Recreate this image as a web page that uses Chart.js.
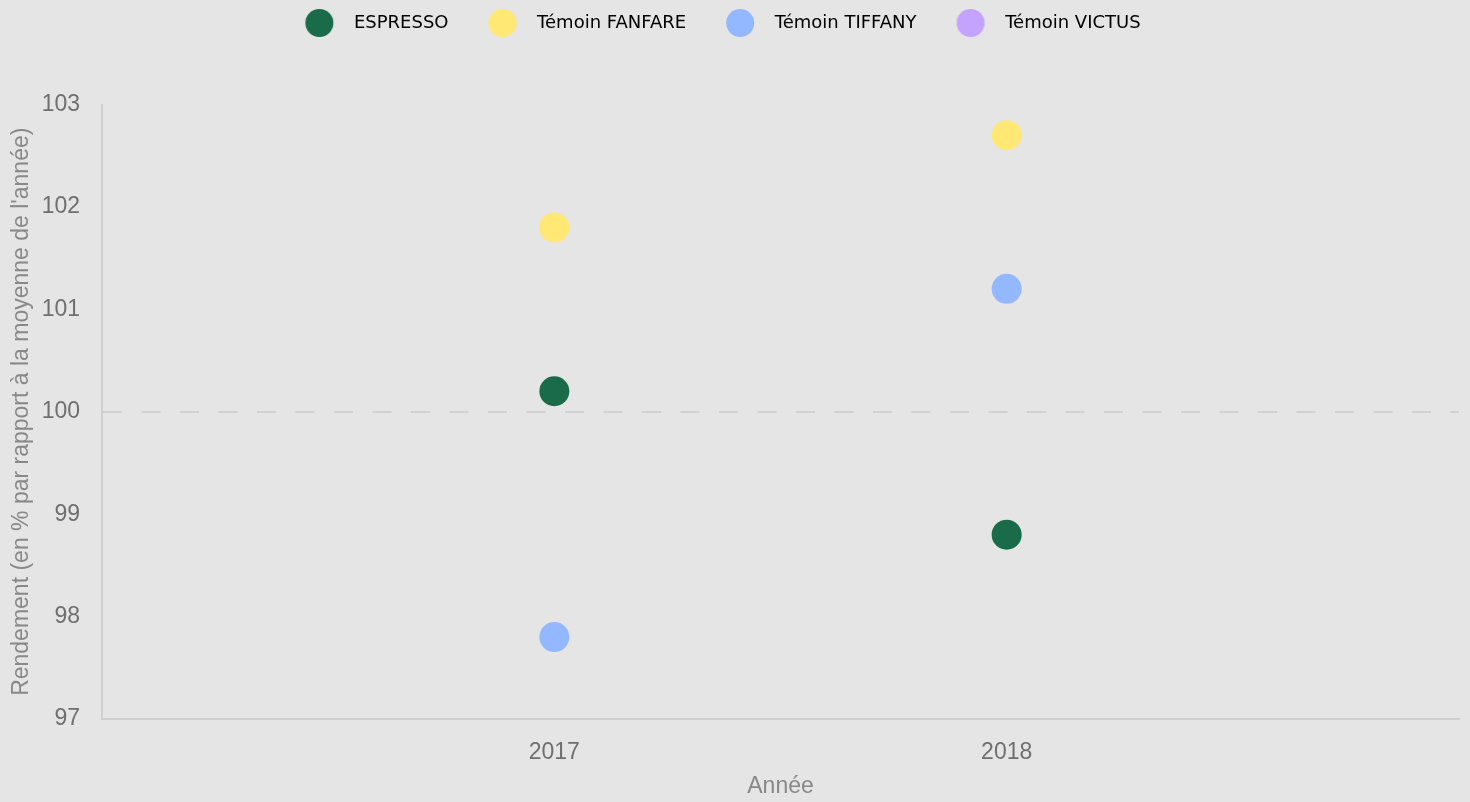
<!DOCTYPE html>
<html>
<head>
<meta charset="utf-8">
<script src="https://cdn.jsdelivr.net/npm/chart.js@4"></script>
<style>
  html,body{margin:0;padding:0;background:#e5e5e5;}
  #wrap{width:1470px;height:802px;}
</style>
</head>
<body>
<div id="wrap"><canvas id="chart"></canvas></div>
<script>
// data
const years = [2017, 2018];
const seriesNames = ['ESPRESSO', 'Témoin FANFARE', 'Témoin TIFFANY', 'Témoin VICTUS'];
const espresso = [100.2, 98.8];
const fanfare = [101.8, 102.7];
const tiffany = [97.8, 101.2];
const victus = [];
const colors = ['#196b4a', '#ffe873', '#94b8ff', '#c4a3ff'];

const yTicks = [97, 98, 99, 100, 101, 102, 103];

// legend dot, drawn off-centre in its image so the spacing matches
function legendDot(color){
  const c = document.createElement('canvas');
  c.width = 66; c.height = 30;
  const g = c.getContext('2d');
  g.fillStyle = color;
  g.beginPath();
  g.arc(15.2, 15, 14, 0, Math.PI*2);
  g.fill();
  return c;
}

function pts(vals){
  return vals.map((v,i)=>({x: years[i], y: v}));
}

const allVals = [espresso, fanfare, tiffany, victus];
const datasets = seriesNames.map((name,i)=>({
  label: name,
  data: pts(allVals[i]),
  backgroundColor: colors[i],
  borderColor: colors[i],
  borderWidth: 0,
  pointRadius: 15,
  pointHoverRadius: 15,
  pointStyle: 'circle'
}));

const legendGap = {
  id: 'legendGap',
  beforeInit(chart){
    const fit = chart.legend.fit;
    chart.legend.fit = function(){
      fit.bind(chart.legend)();
      this.height += 62.5;
    };
  }
};

const axisFont = { family: '"Liberation Sans", Arial, sans-serif', size: 23 };

new Chart(document.getElementById('chart'), {
  type: 'scatter',
  data: { datasets },
  options: {
    responsive: true,
    maintainAspectRatio: false,
    animation: false,
    layout: { autoPadding: false, padding: { top: -50, right: 0, left: 0, bottom: 0 } },
    plugins: {
      tooltip: { enabled: false },
      legend: {
        position: 'top',
        labels: {
          usePointStyle: true,
          pointStyleWidth: 15.6,
          padding: 64,
          color: '#111',
          font: { family: '"DejaVu Sans", sans-serif', size: 18 },
          generateLabels(chart){
            return chart.data.datasets.map((ds,i)=>({
              text: ds.label,
              fillStyle: ds.backgroundColor,
              strokeStyle: ds.backgroundColor,
              lineWidth: 0,
              pointStyle: legendDot(colors[i]),
              hidden: false,
              datasetIndex: i
            }));
          }
        }
      }
    },
    scales: {
      x: {
        type: 'linear',
        min: 2016,
        max: 2019,
        grid: { display: false, drawTicks: false },
        border: { display: true, color: '#cfcfcf', width: 2 },
        ticks: {
          stepSize: 1,
          padding: 20,
          color: '#6f6f6f',
          font: axisFont,
          callback: v => years.includes(v) ? String(v) : ''
        },
        title: {
          display: true,
          text: 'Année',
          color: '#888',
          font: axisFont,
          padding: { top: 4, bottom: 2 }
        },
        afterFit(s){ s.height = 83; s.paddingRight = 11; }
      },
      y: {
        min: 97,
        max: 103,
        afterBuildTicks(s){ s.ticks = yTicks.map(v=>({value: v})); },
        grid: {
          drawTicks: false,
          color: c => c.tick && c.tick.value === 100 ? '#d2d2d2' : 'rgba(0,0,0,0)',
          lineWidth: 2
        },
        border: { display: true, color: '#cfcfcf', width: 2, dash: [19, 19.5] },
        ticks: {
          padding: 22,
          color: '#6f6f6f',
          font: axisFont
        },
        title: {
          display: true,
          text: "Rendement (en % par rapport à la moyenne de l'année)",
          color: '#888',
          font: axisFont,
          padding: { top: 8, bottom: 4 }
        },
        afterFit(s){ s.width = 102; }
      }
    }
  },
  plugins: [legendGap]
});
</script>
</body>
</html>
